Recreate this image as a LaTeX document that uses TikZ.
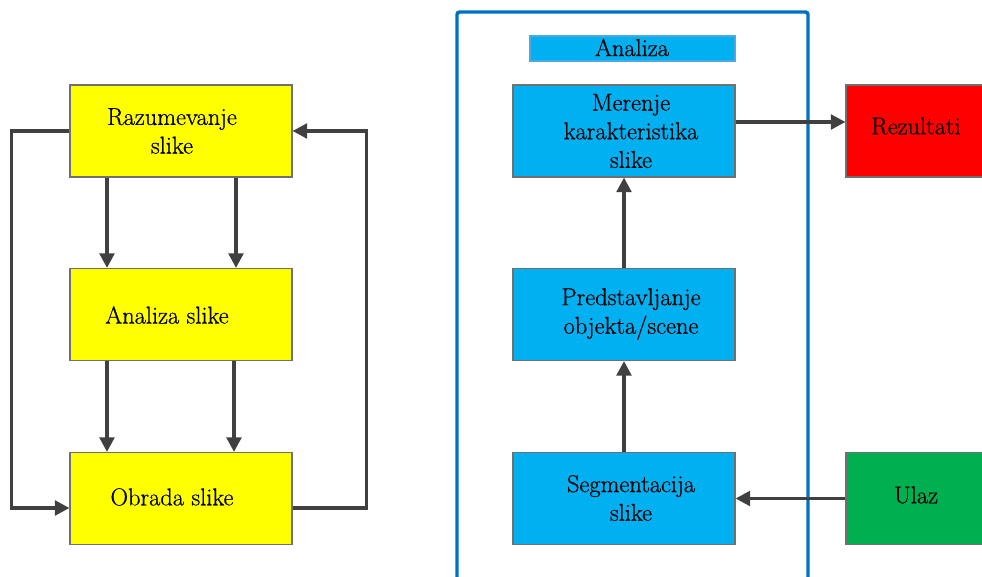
\documentclass[tikz,border=0pt]{standalone}
\usepackage{fontspec}
\newfontfamily\lmfont{Latin Modern Roman}[FakeBold=0.6]
\usetikzlibrary{arrows.meta,positioning}
\definecolor{ybox}{HTML}{FFFF00}
\definecolor{cbox}{HTML}{00B0F0}
\definecolor{rbox}{HTML}{FF0000}
\definecolor{gbox}{HTML}{00B050}
\definecolor{arrgray}{HTML}{404040}
\definecolor{bordergray}{HTML}{707070}
\definecolor{framblue}{HTML}{0070C0}
\definecolor{hdrborder}{HTML}{4FA8E0}
\tikzset{
  boxbase/.style={draw=bordergray, line width=0.8pt, minimum width=166.5pt, minimum height=69pt, inner sep=0pt},
  yellowbox/.style={boxbase, fill=ybox},
  cyanbox/.style={boxbase, fill=cbox},
  sidebox/.style={draw=bordergray, line width=0.8pt, minimum width=105pt, minimum height=69pt, inner sep=0pt},
  txt/.style={align=center, inner sep=0pt, font=\lmfont\fontsize{18.3}{21.5}\selectfont},
  arr/.style={draw=arrgray, line width=2.6pt, -{Triangle[length=11pt,width=11pt]}},
}
\begin{document}
\begin{tikzpicture}[x=0.75pt,y=-0.75pt]
\useasboundingbox (0,0) rectangle (982,577);
% left column boxes
\node[yellowbox] (r) at (181,131) {};
\node[yellowbox] (a) at (181,314.5) {};
\node[yellowbox] (o) at (181,498.5) {};
\node[txt] (rt) at (172,131) {Razumevanje\\slike};
\node[txt] (at) at (167,315) {Analiza slike};
\node[txt] (ot) at (172,497) {Obrada slike};
% vertical arrows
\draw[arr] ([xshift=-55.5pt]r.south) -- ([xshift=-55.5pt]a.north);
\draw[arr] ([xshift=41.25pt]r.south) -- ([xshift=41.25pt]a.north);
\draw[arr] ([xshift=-55.5pt]a.south) -- ([xshift=-55.5pt]o.north);
\draw[arr] ([xshift=39.75pt]a.south) -- ([xshift=39.75pt]o.north);
% loops
\draw[arr] (r.west) -- ++(-43.5pt,0) |- ([yshift=-7.125pt]o.west);
\draw[arr] ([yshift=-7.125pt]o.east) -- ++(55.5pt,0) |- (r.east);
% right part frame
\draw[framblue, line width=2.6pt, rounded corners=2pt] (457,12) rectangle (808,620);
\node[draw=hdrborder, line width=0.8pt, fill=cbox, minimum width=153.75pt, minimum height=18.75pt, inner sep=0pt] (hdr) at (632.5,48.5) {};
\node[txt] (hdrt) at (632,47.5) {Analiza};
\node[cyanbox] (m) at (624,131) {};
\node[cyanbox] (p) at (624,314.5) {};
\node[cyanbox] (s) at (624,498.5) {};
\node[txt] (mt) at (631,131) {Merenje\\karakteristika\\slike};
\node[txt] (pt) at (631,314) {Predstavljanje\\objekta/scene};
\node[txt] (st) at (631,498) {Segmentacija\\slike};
\node[sidebox, fill=rbox] (rez) at (916,131) {};
\node[sidebox, fill=gbox] (u) at (916,498.5) {};
\node[txt] (rezt) at (916,126) {Rezultati};
\node[txt] (ut) at (916,495) {Ulaz};
% arrows right part
\draw[arr] (s.north) -- (p.south);
\draw[arr] (p.north) -- (m.south);
\draw[arr] ([yshift=6.75pt]m.east) -- ([yshift=6.75pt]rez.west);
\draw[arr] (u.west) -- (s.east);
\end{tikzpicture}
\end{document}
